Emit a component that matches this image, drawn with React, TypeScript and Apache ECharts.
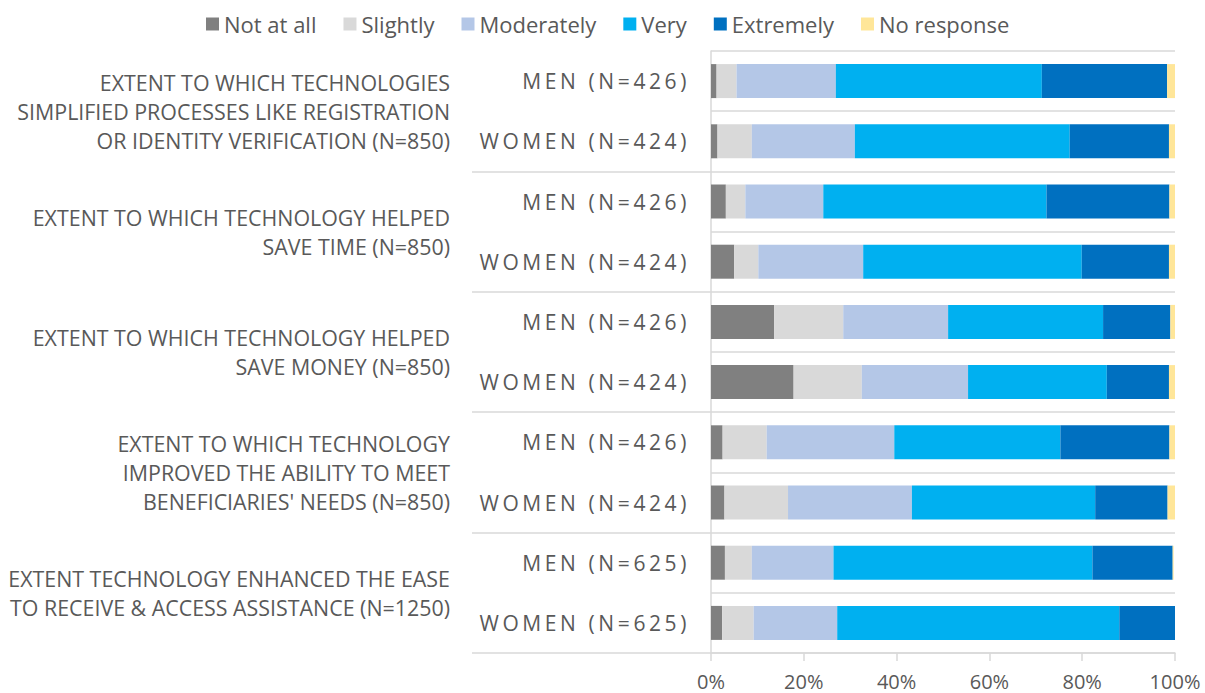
import React, { useEffect, useRef } from "react";
import * as echarts from "echarts";

const rowLabels = [
  "MEN (N=426)", "WOMEN (N=424)",
  "MEN (N=426)", "WOMEN (N=424)",
  "MEN (N=426)", "WOMEN (N=424)",
  "MEN (N=426)", "WOMEN (N=424)",
  "MEN (N=625)", "WOMEN (N=625)",
];

const groupLabels = [
  "EXTENT TO WHICH TECHNOLOGIES\nSIMPLIFIED PROCESSES LIKE REGISTRATION\nOR IDENTITY VERIFICATION (N=850)",
  "EXTENT TO WHICH TECHNOLOGY HELPED\nSAVE TIME (N=850)",
  "EXTENT TO WHICH TECHNOLOGY HELPED\nSAVE MONEY (N=850)",
  "EXTENT TO WHICH TECHNOLOGY\nIMPROVED THE ABILITY TO MEET\nBENEFICIARIES' NEEDS (N=850)",
  "EXTENT TECHNOLOGY ENHANCED THE EASE\nTO RECEIVE & ACCESS ASSISTANCE (N=1250)",
];

const seriesNames = ["Not at all", "Slightly", "Moderately", "Very", "Extremely", "No response"];
const seriesColors = ["#808080", "#d9d9d9", "#b4c7e7", "#00b0f0", "#0070c0", "#ffe699"];

const notAtAll = [1.2, 1.4, 3.2, 5.0, 13.6, 17.8, 2.5, 2.9, 3.0, 2.4];
const slightly = [4.3, 7.4, 4.2, 5.2, 14.9, 14.7, 9.5, 13.7, 5.8, 6.8];
const moderately = [21.4, 22.2, 16.8, 22.6, 22.6, 22.9, 27.5, 26.7, 17.6, 18.0];
const very = [44.4, 46.3, 48.1, 47.1, 33.4, 29.9, 35.8, 39.5, 55.8, 60.8];
const extremely = [27.0, 21.4, 26.5, 18.8, 14.5, 13.4, 23.5, 15.6, 17.3, 12.0];
const noResponse = [1.7, 1.3, 1.2, 1.3, 1.0, 1.3, 1.2, 1.6, 0.2, 0];

const seriesValues = [notAtAll, slightly, moderately, very, extremely, noResponse];

const xTicks = { min: 0, max: 100, interval: 20 };

const FONT = "Open Sans";
const TEXT = "#595959";
const LINE = "#d9d9d9";

function applyLetterSpacing(root: HTMLElement | null) {
  if (!root) return;
  root.querySelectorAll("text").forEach((t) => {
    const s = t.textContent || "";
    if (/^(MEN|WOMEN) \(N=/.test(s)) {
      (t as SVGTextElement).style.letterSpacing = "3.6px";
    }
  });
}

export default function App() {
  const ref = useRef<HTMLDivElement>(null);
  useEffect(() => {
    document.body.style.margin = "0";
    if (!ref.current) return;
    const chart = echarts.init(ref.current, undefined, { renderer: "svg" });
    chart.setOption({
      animation: false,
      textStyle: { fontFamily: FONT },
      legend: {
        data: seriesNames,
        left: 201,
        top: 8,
        icon: "rect",
        itemWidth: 13,
        itemHeight: 13,
        itemGap: 27,
        textStyle: { fontSize: 22, color: TEXT, fontFamily: FONT },
        selectedMode: false,
      },
      grid: { left: 711, right: 30, top: 51, bottom: 40, containLabel: false },
      xAxis: {
        type: "value",
        min: xTicks.min,
        max: xTicks.max,
        interval: xTicks.interval,
        axisLine: { show: true, lineStyle: { color: LINE, width: 1.5 } },
        axisTick: { show: true, length: 8, lineStyle: { color: LINE, width: 1.5 } },
        splitLine: { show: false },
        axisLabel: {
          formatter: "{value}%",
          fontSize: 20,
          color: TEXT,
          margin: 18,
          fontFamily: FONT,
        },
      },
      yAxis: [
        {
          type: "category",
          inverse: true,
          data: rowLabels,
          axisLine: { show: true, lineStyle: { color: LINE, width: 1.5 } },
          axisTick: { show: false },
          splitLine: { show: true, interval: 0, lineStyle: { color: LINE, width: 1.5 } },
          axisLabel: {
            interval: 0,
            fontSize: 21,
            color: TEXT,
            margin: 21,
            fontFamily: FONT,
          },
        },
        {
          type: "category",
          inverse: true,
          position: "left",
          data: groupLabels,
          axisLine: { show: false },
          axisTick: {
            show: true,
            length: 239,
            interval: (i: number) => i !== 0,
            lineStyle: { color: LINE, width: 1.5 },
          },
          splitLine: { show: false },
          axisLabel: {
            interval: 0,
            fontSize: 21.4,
            lineHeight: 29,
            color: TEXT,
            margin: 261,
            align: "right",
            fontFamily: FONT,
          },
        },
      ],
      series: seriesNames.map((name, i) => ({
        name,
        type: "bar",
        stack: "total",
        yAxisIndex: 0,
        barWidth: 34,
        silent: true,
        itemStyle: { color: seriesColors[i] },
        data: seriesValues[i],
      })),
    });
    applyLetterSpacing(ref.current);
    const onFinish = () => applyLetterSpacing(ref.current);
    chart.on("finished", onFinish);
    return () => {
      chart.dispose();
    };
  }, []);
  return <div ref={ref} style={{ width: 1205, height: 693 }} />;
}
